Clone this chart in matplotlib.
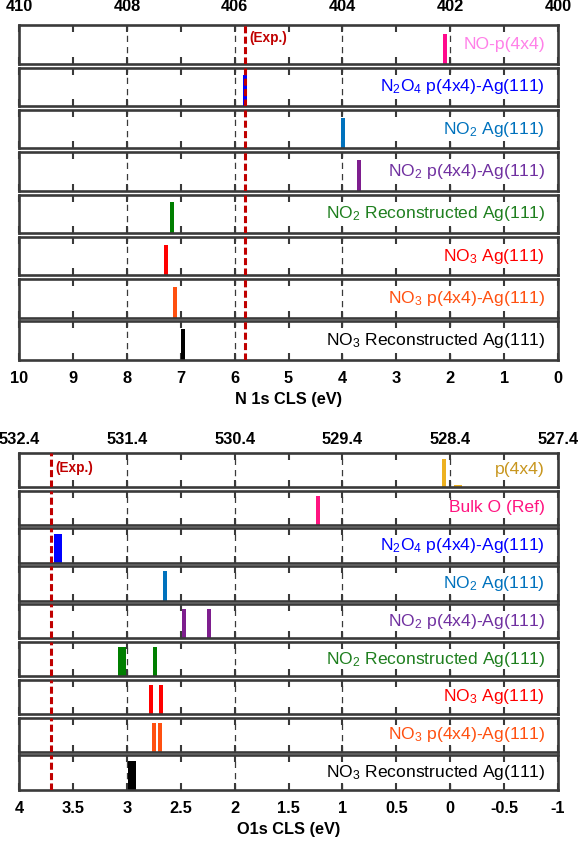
import matplotlib
matplotlib.use("Agg")
import matplotlib.pyplot as plt
from matplotlib.ticker import FuncFormatter


# ============================================================
# Data (CLS values in eV)
# ============================================================

N1S_LABELS = [
    "NO-p(4x4)",
    "N$_2$O$_4$ p(4x4)-Ag(111)",
    "NO$_2$ Ag(111)",
    "NO$_2$ p(4x4)-Ag(111)",
    "NO$_2$ Reconstructed Ag(111)",
    "NO$_3$ Ag(111)",
    "NO$_3$ p(4x4)-Ag(111)",
    "NO$_3$ Reconstructed Ag(111)",
]
N1S_CLS = [[2.10], [5.80], [3.99], [3.70], [7.17], [7.27], [7.11], [6.96]]
N1S_HEIGHT = [[0.78], [0.8], [0.8], [0.8], [0.8], [0.8], [0.8], [0.8]]
N1S_EXP = 5.80
N1S_TICKS = list(range(0, 11))
N1S_TOP_TICKS = [410, 408, 406, 404, 402, 400]
N1S_REF = 400.0

O1S_LABELS = [
    "p(4x4)",
    "Bulk O (Ref)",
    "N$_2$O$_4$ p(4x4)-Ag(111)",
    "NO$_2$ Ag(111)",
    "NO$_2$ p(4x4)-Ag(111)",
    "NO$_2$ Reconstructed Ag(111)",
    "NO$_3$ Ag(111)",
    "NO$_3$ p(4x4)-Ag(111)",
    "NO$_3$ Reconstructed Ag(111)",
]
O1S_CLS = [
    [0.06, -0.05, -0.09],
    [1.23],
    [3.66, 3.62],
    [2.65],
    [2.47, 2.24],
    [3.06, 3.03, 2.74],
    [2.78, 2.68],
    [2.75, 2.69],
    [2.97, 2.93],
]
O1S_HEIGHT = [
    [0.82, 0.07, 0.07],
    [0.85],
    [0.85, 0.85],
    [0.85],
    [0.85, 0.85],
    [0.85, 0.85, 0.85],
    [0.85, 0.85],
    [0.85, 0.85],
    [0.85, 0.85],
]
O1S_EXP = 3.70
O1S_TICKS = [4, 3.5, 3, 2.5, 2, 1.5, 1, 0.5, 0, -0.5, -1]
O1S_TOP_TICKS = [532.4, 531.4, 530.4, 529.4, 528.4, 527.4]
O1S_REF = 528.4


# ============================================================
# Style
# ============================================================

plt.rcParams["font.family"] = ["Liberation Sans", "DejaVu Sans"]
plt.rcParams["mathtext.default"] = "regular"
plt.rcParams["axes.unicode_minus"] = False

FRAME = "#3a3a3a"
EXP_COLOR = "#C00000"

N1S_BAR_COLORS = ["#FF0A8C", "#0000FF", "#0072BD", "#7E1E8E",
                  "#007F00", "#FF0000", "#FF5010", "#000000"]
N1S_TEXT_COLORS = ["#FF80E8", "#0000FF", "#0072BD", "#7030A0",
                   "#1E7F1E", "#FF0000", "#FF5010", "#000000"]
O1S_BAR_COLORS = ["#EDB120", "#FF1480"] + N1S_BAR_COLORS[1:]
O1S_TEXT_COLORS = ["#C8961E", "#FF1480"] + N1S_TEXT_COLORS[1:]


def style_panel(ax, xlim, ticks, grid_at):
    ax.set_xlim(*xlim)
    ax.set_ylim(0, 1)
    ax.set_yticks([])
    ax.set_xticks(ticks)
    ax.tick_params(axis="x", direction="in", top=True, bottom=True,
                   length=5, width=1.5, color=FRAME,
                   labelbottom=False, labeltop=False)
    for sp in ax.spines.values():
        sp.set_linewidth(1.9)
        sp.set_color(FRAME)
    for g in grid_at:
        ax.axvline(g, color=FRAME, lw=0.9, ls=(0, (5, 4)), zorder=1)


def draw_block(fig, gs, labels, cls, heights, bar_colors, text_colors,
               xlim, ticks, grid_at, bar_width, exp, exp_y, top_ticks, ref,
               top_fmt, top_pad, xlabel):
    axes = []
    for i, lab in enumerate(labels):
        ax = fig.add_subplot(gs[i, 0])
        style_panel(ax, xlim, ticks, grid_at)
        ax.bar(cls[i], heights[i], width=bar_width, color=bar_colors[i],
               zorder=2, linewidth=0)
        ax.axvline(exp, color=EXP_COLOR, lw=2.2, ls=(0, (2.3, 1.1)), zorder=4)
        ax.text(0.976, 0.5, lab, transform=ax.transAxes, ha="right",
                va="center", fontsize=12.6, color=text_colors[i], zorder=3,
                bbox=dict(facecolor="white", edgecolor="none", pad=0.5))
        axes.append(ax)

    # experimental reference label
    axes[0].annotate("(Exp.)", xy=(exp, exp_y), xycoords=("data", "axes fraction"),
                     xytext=(3, 0), textcoords="offset points", ha="left",
                     va="center", fontsize=9.8, fontweight="bold",
                     color=EXP_COLOR, zorder=5)

    # binding energy axis on top
    sec = axes[0].secondary_xaxis("top", functions=(lambda x: x + ref,
                                                    lambda x: x - ref))
    sec.set_xticks(top_ticks)
    sec.xaxis.set_major_formatter(FuncFormatter(lambda v, p: top_fmt % v))
    sec.tick_params(length=0, pad=top_pad, labelsize=11.8)
    sec.spines["top"].set_visible(False)
    for t in sec.get_xticklabels():
        t.set_fontweight("bold")

    # CLS axis at the bottom
    last = axes[-1]
    last.tick_params(labelbottom=True, labelsize=11.8, pad=8)
    last.xaxis.set_major_formatter(FuncFormatter(lambda v, p: "%g" % v))
    for t in last.get_xticklabels():
        t.set_fontweight("bold")
    last.set_xlabel(xlabel, fontsize=11.8, fontweight="bold", labelpad=4)
    return axes


def main():
    fig = plt.figure(figsize=(5.8, 8.43), dpi=100)

    gs_top = fig.add_gridspec(len(N1S_LABELS), 1, left=0.033, right=0.962,
                              top=0.970, bottom=0.573, hspace=0.1)
    draw_block(fig, gs_top, N1S_LABELS, N1S_CLS, N1S_HEIGHT,
               N1S_BAR_COLORS, N1S_TEXT_COLORS,
               xlim=(10, 0), ticks=N1S_TICKS, grid_at=[8, 6, 4, 2],
               bar_width=0.075, exp=N1S_EXP, exp_y=0.66,
               top_ticks=N1S_TOP_TICKS, ref=N1S_REF, top_fmt="%d",
               top_pad=8, xlabel="N 1s CLS (eV)")

    gs_bot = fig.add_gridspec(len(O1S_LABELS), 1, left=0.033, right=0.962,
                              top=0.463, bottom=0.063, hspace=0.1)
    draw_block(fig, gs_bot, O1S_LABELS, O1S_CLS, O1S_HEIGHT,
               O1S_BAR_COLORS, O1S_TEXT_COLORS,
               xlim=(4, -1), ticks=O1S_TICKS, grid_at=[3, 2, 1, 0],
               bar_width=0.037, exp=O1S_EXP, exp_y=0.55,
               top_ticks=O1S_TOP_TICKS, ref=O1S_REF, top_fmt="%.1f",
               top_pad=4, xlabel="O1s CLS (eV)")

    fig.savefig("out.png", dpi=100)
    plt.close(fig)


if __name__ == "__main__":
    main()
